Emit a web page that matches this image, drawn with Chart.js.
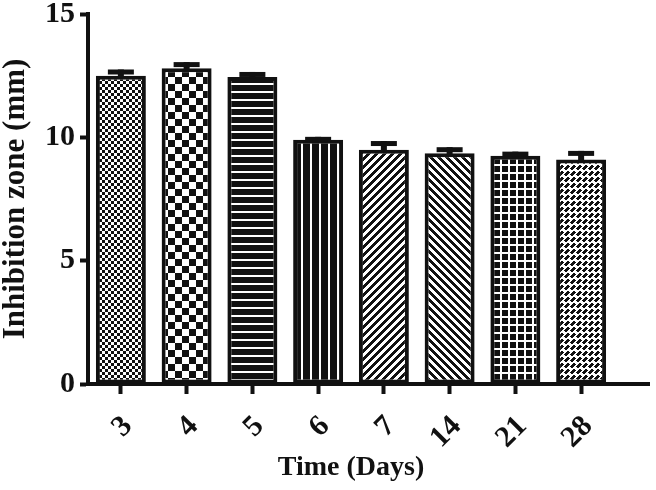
<!DOCTYPE html>
<html>
<head>
<meta charset="utf-8">
<script src="https://cdn.jsdelivr.net/npm/chart.js@4"></script>
<style>
  html, body { margin: 0; padding: 0; background: #fff; }
  #wrap { width: 656px; height: 490px; position: relative; }
</style>
</head>
<body>
<div id="wrap"><canvas id="myChart" width="656" height="490"></canvas></div>
<script>
var days = ['3', '4', '5', '6', '7', '14', '21', '28'];
var means = [12.5, 12.8, 12.45, 9.9, 9.5, 9.35, 9.25, 9.1];
var errors = [0.25, 0.25, 0.2, 0.12, 0.35, 0.25, 0.17, 0.35];
var yTicks = [0, 5, 10, 15];

// build a small tile and turn it into a canvas pattern
function makeTile(size, isBlack) {
    var c = document.createElement('canvas');
    c.width = size; c.height = size;
    var g = c.getContext('2d');
    g.fillStyle = '#fff';
    g.fillRect(0, 0, size, size);
    g.fillStyle = '#111';
    for (var x = 0; x < size; x++) {
        for (var y = 0; y < size; y++) {
            if (isBlack(x, y)) g.fillRect(x, y, 1, 1);
        }
    }
    return document.getElementById('myChart').getContext('2d').createPattern(c, 'repeat');
}

var patterns = [
    makeTile(6, function (x, y) { return ((Math.floor(x / 3) + Math.floor(y / 3)) % 2) == 0; }),
    makeTile(14, function (x, y) { return ((Math.floor(x / 7) + Math.floor(y / 7)) % 2) == 0; }),
    makeTile(8, function (x, y) { return !(y % 8 == 3 || y % 8 == 4); }),
    makeTile(9, function (x, y) { return !(x % 9 == 4 || x % 9 == 5); }),
    makeTile(8, function (x, y) { return (x + y) % 8 < 4; }),
    makeTile(8, function (x, y) { return (x - y + 16) % 8 < 4; }),
    makeTile(8, function (x, y) { return !(x % 8 == 4 || x % 8 == 5 || y % 8 == 4 || y % 8 == 5); }),
    makeTile(12, function (x, y) {
        var u = x + y, v = x - y + 24;
        var off = (Math.floor(u / 6) % 2) * 6;
        return (u % 6) < 4 && ((v + off) % 12) < 8;
    })
];

var errorBars = {
    id: 'errorBars',
    afterDatasetsDraw: function (chart) {
        var ctx = chart.ctx;
        var yScale = chart.scales.y;
        var meta = chart.getDatasetMeta(0);
        ctx.save();
        ctx.fillStyle = '#111';
        meta.data.forEach(function (bar, i) {
            var top = yScale.getPixelForValue(means[i] + errors[i]);
            ctx.fillRect(bar.x - 3, top, 6, bar.y - top + 2);
            ctx.fillRect(bar.x - 13, top, 26, 5);
        });
        // Prism-style x axis runs a bit past the last bar
        var a = chart.chartArea;
        ctx.fillRect(a.right - 2, a.bottom - 2, 652 - a.right, 4);
        ctx.restore();
    }
};

var fontFam = '"Liberation Serif", "Times New Roman", serif';

new Chart('myChart', {
    type: 'bar',
    data: {
        labels: days,
        datasets: [{
            data: means,
            backgroundColor: patterns,
            borderColor: '#111',
            borderWidth: 4,
            borderSkipped: false,
            categoryPercentage: 1,
            barPercentage: 0.76
        }]
    },
    options: {
        responsive: false,
        animation: false,
        layout: { padding: { top: 13, right: 42, left: 0, bottom: 0 } },
        plugins: { legend: { display: false }, tooltip: { enabled: false } },
        scales: {
            x: {
                grid: { offset: false, drawOnChartArea: false, tickLength: 10, tickWidth: 4, tickColor: '#111' },
                border: { color: '#111', width: 4 },
                ticks: {
                    color: '#111', minRotation: 45, maxRotation: 45, padding: 15, labelOffset: 7,
                    font: { family: fontFam, size: 30, weight: 'bold' }
                },
                title: {
                    display: true, text: 'Time (Days)', color: '#111',
                    font: { family: fontFam, size: 28, weight: 'bold', lineHeight: 1.2 },
                    padding: { top: 0, bottom: 5 }
                },
                afterFit: function (s) { s.height = 106; }
            },
            y: {
                min: 0, max: 15,
                afterBuildTicks: function (s) { s.ticks = yTicks.map(function (v) { return { value: v }; }); },
                grid: { drawOnChartArea: false, tickLength: 8, tickWidth: 4, tickColor: '#111' },
                border: { color: '#111', width: 4 },
                ticks: {
                    color: '#111', padding: 5,
                    font: { family: fontFam, size: 30, weight: 'bold', lineHeight: 0.6 }
                },
                title: {
                    display: true, text: 'Inhibition zone (mm)', color: '#111',
                    font: { family: fontFam, size: 31, weight: 'bold', lineHeight: 1 },
                    padding: 0
                },
                afterFit: function (s) { s.width = 88; }
            }
        }
    },
    plugins: [errorBars]
});
</script>
</body>
</html>
